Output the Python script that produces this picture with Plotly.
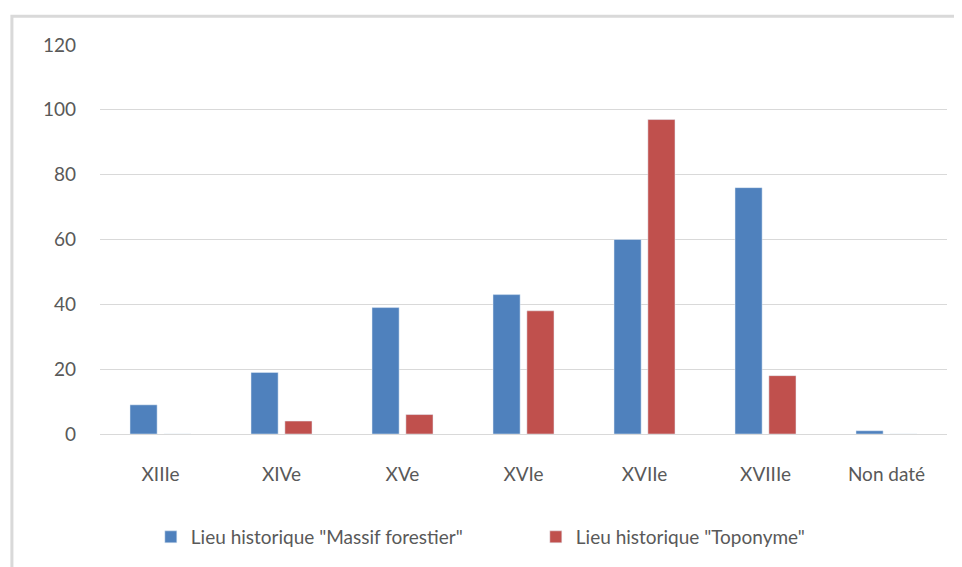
import plotly.graph_objects as go

categories = ["XIIIe", "XIVe", "XVe", "XVIe", "XVIIe", "XVIIIe", "Non daté"]
massif = [9, 19, 39, 43, 60, 76, 1]
toponyme = [0, 4, 6, 38, 97, 18, 0]
series_names = ['Lieu historique "Massif forestier"', 'Lieu historique "Toponyme"']

FONT = "Lato, Open Sans, sans-serif"

fig = go.Figure()
fig.add_trace(go.Bar(x=categories, y=massif, name=series_names[0], marker_color="#4f81bd"))
fig.add_trace(go.Bar(x=categories, y=toponyme, name=series_names[1], marker_color="#c0504d"))

fig.update_layout(
    width=954, height=559,
    margin=dict(l=92, r=15, t=37, b=132),
    paper_bgcolor="white", plot_bgcolor="white",
    barmode="group", bargap=0.44, bargroupgap=0.2,
    font=dict(family=FONT, size=19, color="#595959"),
    showlegend=True,
    legend=dict(orientation="h", x=0.060, xanchor="left", y=-0.2615, yanchor="middle",
                font=dict(size=19, color="#595959"), itemwidth=30, entrywidth=340,
                traceorder="normal"),
    xaxis=dict(showgrid=False, showline=True, linecolor="#d9d9d9", linewidth=1,
               ticks="", ticklabelstandoff=23),
    yaxis=dict(range=[0, 120], dtick=20, showgrid=True, gridcolor="#d9d9d9", gridwidth=1,
               zeroline=False, showline=False, ticks="", ticklabelstandoff=23),
    shapes=[dict(type="rect", xref="paper", yref="paper",
                 x0=-0.104, x1=1.2, y0=-0.5, y1=1.074,
                 line=dict(color="#d9d9d9", width=3), fillcolor="rgba(0,0,0,0)", layer="below")],
)

fig.write_html("out.html")
